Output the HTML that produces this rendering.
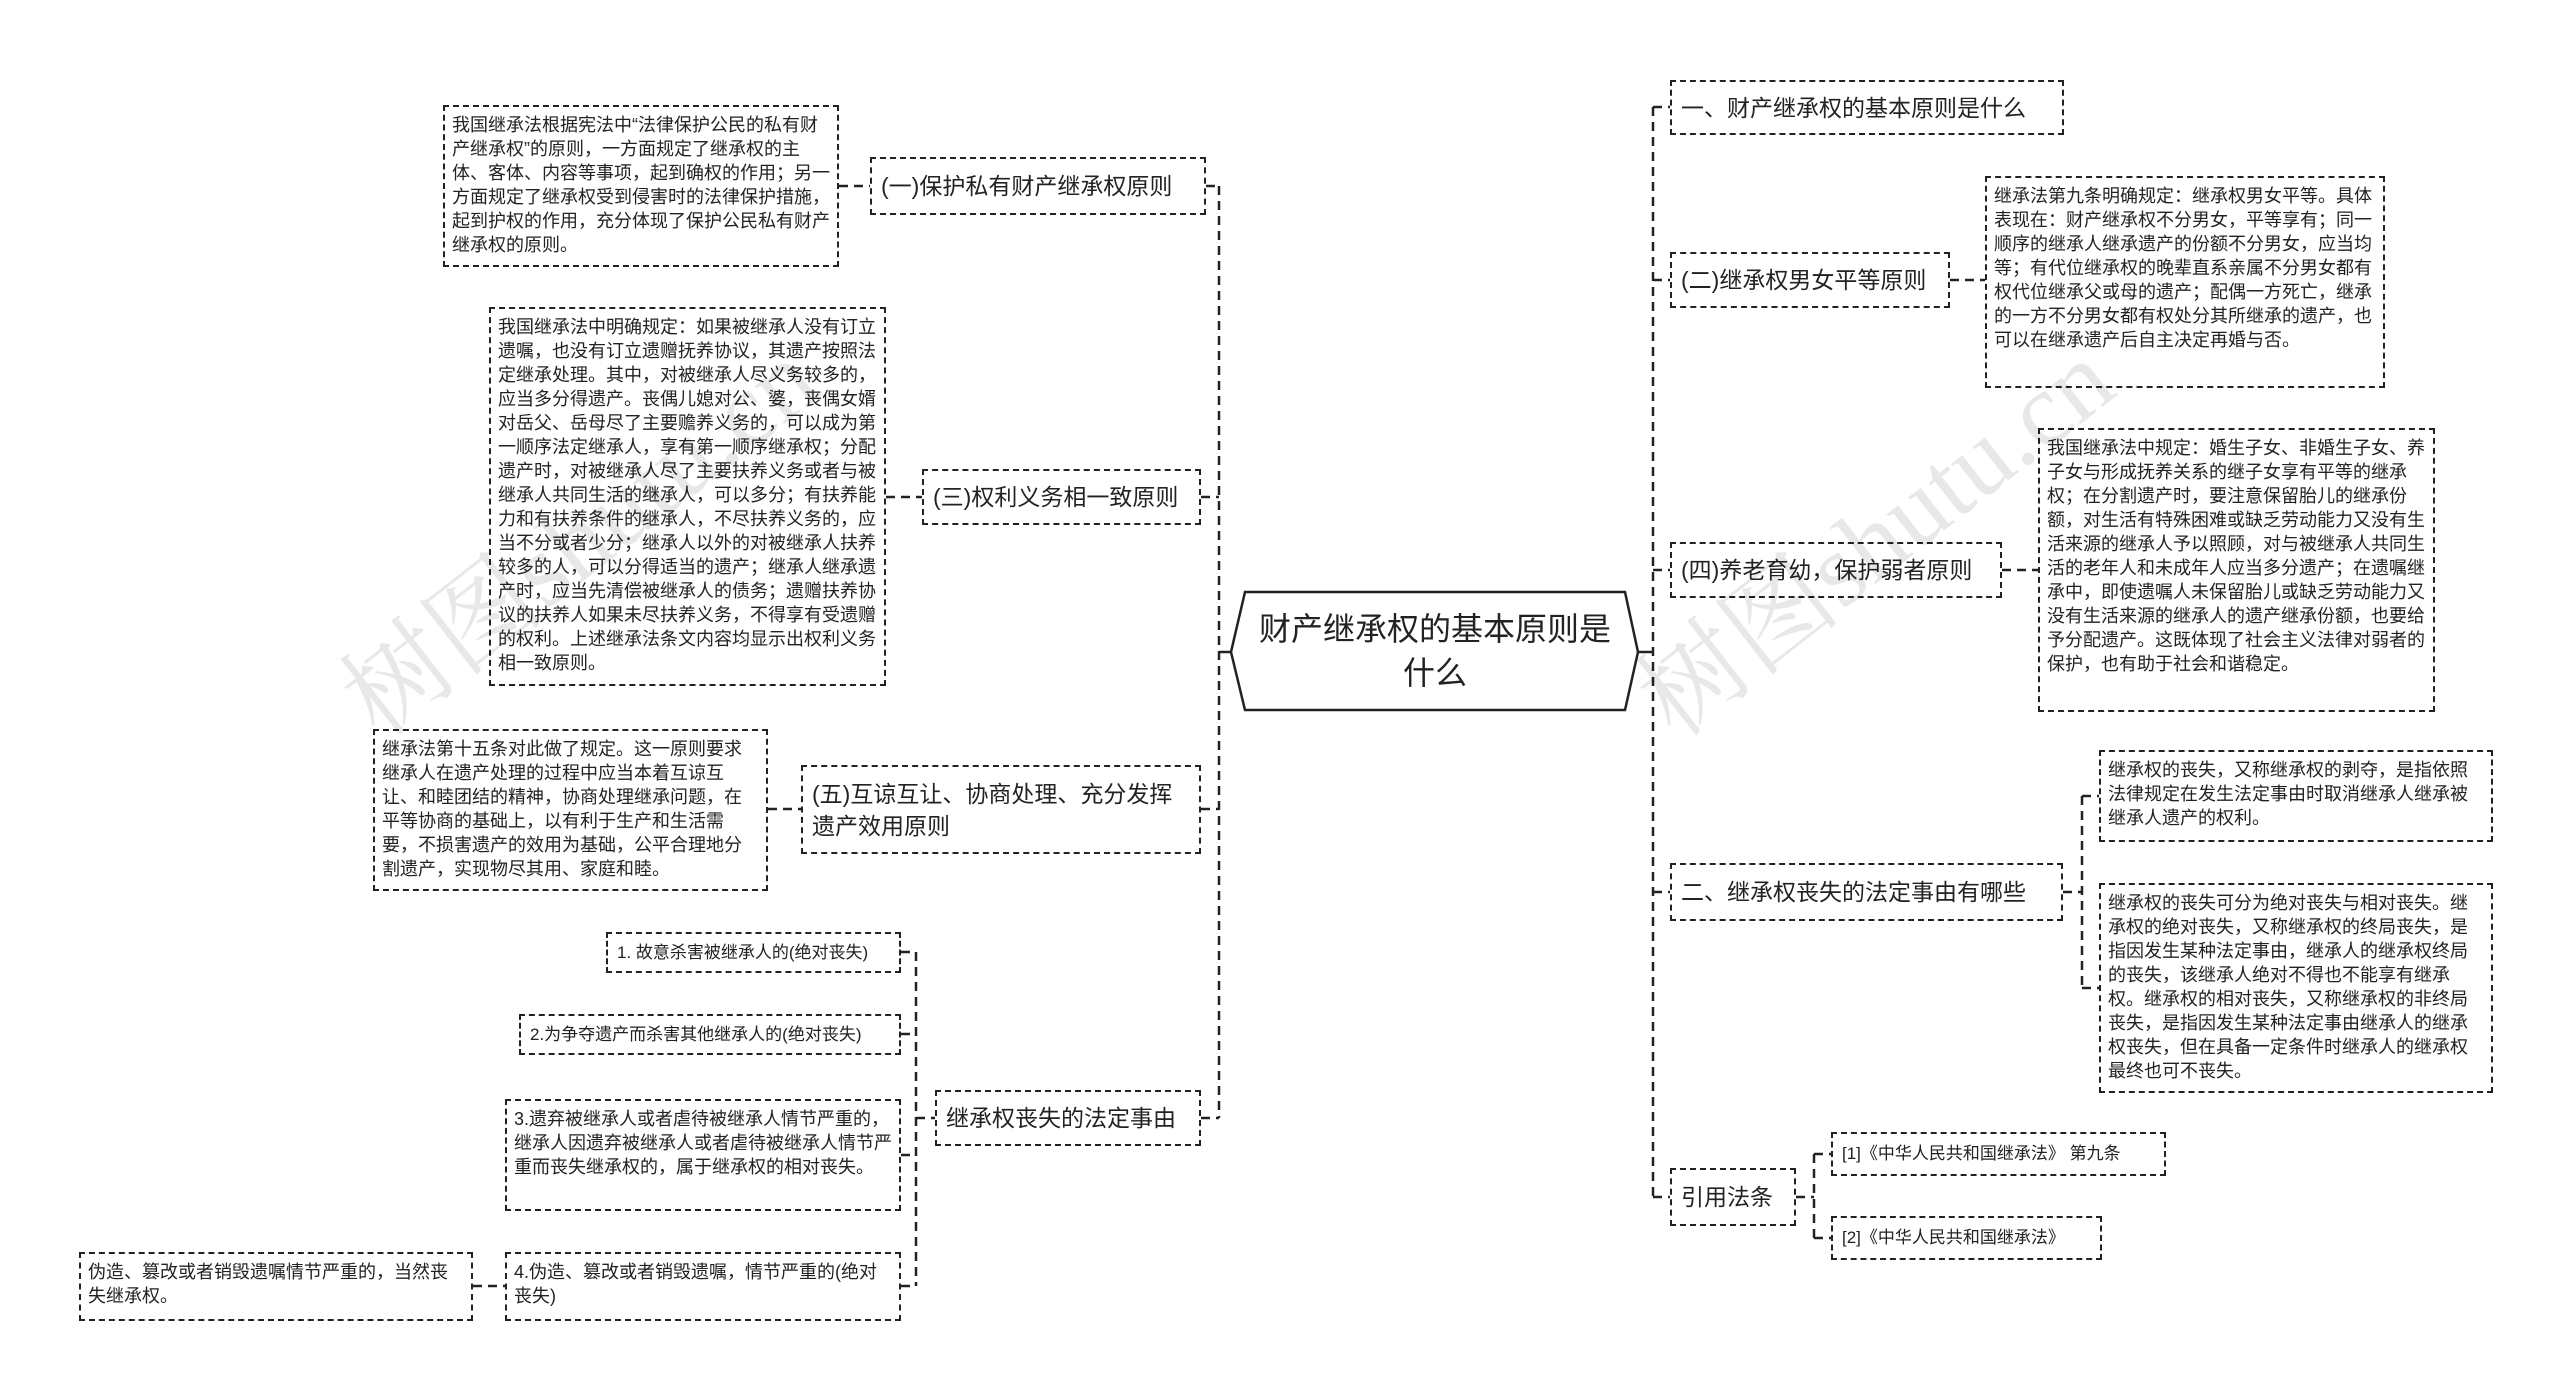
<!DOCTYPE html>
<html><head><meta charset="utf-8"><style>
html,body{margin:0;padding:0;background:#fff;width:2560px;height:1393px;overflow:hidden;}
#root{width:2560px;height:1393px;position:relative;overflow:hidden;font-family:"Liberation Sans","Noto Sans CJK SC",sans-serif;color:#222;}
.b{position:absolute;box-sizing:border-box;border:2px dashed #222;display:flex;align-items:center;padding:0 9px;font-size:23px;line-height:32px;background:#fff;white-space:nowrap;}
.b.w{white-space:normal;}
.d{position:absolute;box-sizing:border-box;border:2px dashed #222;padding:6px 7px;font-size:18px;line-height:24px;background:#fff;word-break:break-all;}
.s{font-size:17px;}
svg{position:absolute;left:0;top:0;}
</style></head><body><div id="root">
<svg width="2560" height="1393">
<g stroke="#222" stroke-width="2.5" fill="none" stroke-dasharray="9,6">
<path d="M1219 186V1118"/>
<path d="M1206 186H1219M839 186H870"/>
<path d="M1201 497H1219M886 497H922"/>
<path d="M1201 809H1219M768 809H801"/>
<path d="M1201 1118H1219M916 1118H935"/>
<path d="M916 952V1286M901 952H916M901 1034H916M901 1155H916M901 1286H916M473 1286H505"/>
<path d="M1653 107V1197"/>
<path d="M1653 107H1670M1653 280H1670M1653 570H1670M1653 892H1670M1653 1197H1670"/>
<path d="M1950 280H1985M2002 570H2038"/>
<path d="M2063 892H2082M2082 796V988M2082 796H2099M2082 988H2099"/>
<path d="M1796 1197H1814M1814 1154V1238M1814 1154H1831M1814 1238H1831"/>
</g>
<g stroke="#222" stroke-width="2.5" fill="none">
<path d="M1219 652H1232M1637 652H1653"/>
<polygon points="1245,592 1625,592 1638,652 1625,710 1245,710 1231,652" fill="#fff"/>
</g>
</svg>
<div style="position:absolute;left:1245px;top:592px;width:380px;height:118px;display:flex;align-items:center;justify-content:center;text-align:center;font-size:32px;line-height:44px;">财产继承权的基本原则是<br>什么</div>

<div class="b" style="left:870px;top:157px;width:336px;height:58px;">(一)保护私有财产继承权原则</div>
<div class="d" style="left:443px;top:105px;width:396px;height:162px;">我国继承法根据宪法中“法律保护公民的私有财产继承权”的原则，一方面规定了继承权的主体、客体、内容等事项，起到确权的作用；另一方面规定了继承权受到侵害时的法律保护措施，起到护权的作用，充分体现了保护公民私有财产继承权的原则。</div>

<div class="b" style="left:922px;top:469px;width:279px;height:56px;">(三)权利义务相一致原则</div>
<div class="d" style="left:489px;top:307px;width:397px;height:379px;">我国继承法中明确规定：如果被继承人没有订立遗嘱，也没有订立遗赠抚养协议，其遗产按照法定继承处理。其中，对被继承人尽义务较多的，应当多分得遗产。丧偶儿媳对公、婆，丧偶女婿对岳父、岳母尽了主要赡养义务的，可以成为第一顺序法定继承人，享有第一顺序继承权；分配遗产时，对被继承人尽了主要扶养义务或者与被继承人共同生活的继承人，可以多分；有扶养能力和有扶养条件的继承人，不尽扶养义务的，应当不分或者少分；继承人以外的对被继承人扶养较多的人，可以分得适当的遗产；继承人继承遗产时，应当先清偿被继承人的债务；遗赠扶养协议的扶养人如果未尽扶养义务，不得享有受遗赠的权利。上述继承法条文内容均显示出权利义务相一致原则。</div>

<div class="b w" style="left:801px;top:765px;width:400px;height:89px;">(五)互谅互让、协商处理、充分发挥遗产效用原则</div>
<div class="d" style="left:373px;top:729px;width:395px;height:162px;">继承法第十五条对此做了规定。这一原则要求继承人在遗产处理的过程中应当本着互谅互让、和睦团结的精神，协商处理继承问题，在平等协商的基础上，以有利于生产和生活需要，不损害遗产的效用为基础，公平合理地分割遗产，实现物尽其用、家庭和睦。</div>

<div class="b" style="left:935px;top:1090px;width:266px;height:56px;">继承权丧失的法定事由</div>
<div class="b s" style="left:606px;top:932px;width:295px;height:41px;">1. 故意杀害被继承人的(绝对丧失)</div>
<div class="b s" style="left:519px;top:1014px;width:382px;height:41px;">2.为争夺遗产而杀害其他继承人的(绝对丧失)</div>
<div class="d" style="left:505px;top:1099px;width:396px;height:112px;">3.遗弃被继承人或者虐待被继承人情节严重的，继承人因遗弃被继承人或者虐待被继承人情节严重而丧失继承权的，属于继承权的相对丧失。</div>
<div class="d" style="left:505px;top:1252px;width:396px;height:69px;">4.伪造、篡改或者销毁遗嘱，情节严重的(绝对丧失)</div>
<div class="d" style="left:79px;top:1252px;width:394px;height:69px;">伪造、篡改或者销毁遗嘱情节严重的，当然丧失继承权。</div>

<div class="b" style="left:1670px;top:80px;width:394px;height:55px;">一、财产继承权的基本原则是什么</div>
<div class="b" style="left:1670px;top:252px;width:280px;height:56px;">(二)继承权男女平等原则</div>
<div class="d" style="left:1985px;top:176px;width:400px;height:212px;">继承法第九条明确规定：继承权男女平等。具体表现在：财产继承权不分男女，平等享有；同一顺序的继承人继承遗产的份额不分男女，应当均等；有代位继承权的晚辈直系亲属不分男女都有权代位继承父或母的遗产；配偶一方死亡，继承的一方不分男女都有权处分其所继承的遗产，也可以在继承遗产后自主决定再婚与否。</div>
<div class="b" style="left:1670px;top:542px;width:332px;height:56px;">(四)养老育幼，保护弱者原则</div>
<div class="d" style="left:2038px;top:428px;width:397px;height:284px;">我国继承法中规定：婚生子女、非婚生子女、养子女与形成抚养关系的继子女享有平等的继承权；在分割遗产时，要注意保留胎儿的继承份额，对生活有特殊困难或缺乏劳动能力又没有生活来源的继承人予以照顾，对与被继承人共同生活的老年人和未成年人应当多分遗产；在遗嘱继承中，即使遗嘱人未保留胎儿或缺乏劳动能力又没有生活来源的继承人的遗产继承份额，也要给予分配遗产。这既体现了社会主义法律对弱者的保护，也有助于社会和谐稳定。</div>
<div class="b" style="left:1670px;top:863px;width:393px;height:58px;">二、继承权丧失的法定事由有哪些</div>
<div class="d" style="left:2099px;top:750px;width:394px;height:92px;">继承权的丧失，又称继承权的剥夺，是指依照法律规定在发生法定事由时取消继承人继承被继承人遗产的权利。</div>
<div class="d" style="left:2099px;top:883px;width:394px;height:210px;">继承权的丧失可分为绝对丧失与相对丧失。继承权的绝对丧失，又称继承权的终局丧失，是指因发生某种法定事由，继承人的继承权终局的丧失，该继承人绝对不得也不能享有继承权。继承权的相对丧失，又称继承权的非终局丧失，是指因发生某种法定事由继承人的继承权丧失，但在具备一定条件时继承人的继承权最终也可不丧失。</div>
<div class="b" style="left:1670px;top:1168px;width:126px;height:58px;">引用法条</div>
<div class="b s" style="left:1831px;top:1132px;width:335px;height:44px;">[1]《中华人民共和国继承法》 第九条</div>
<div class="b s" style="left:1831px;top:1216px;width:271px;height:44px;">[2]《中华人民共和国继承法》</div>

<svg width="2560" height="1393" style="pointer-events:none;">
<g fill="rgba(0,0,0,0.09)" font-size="105" font-family="Liberation Serif, Noto Serif CJK SC, serif">
<text x="380" y="740" transform="rotate(-38 380 740)">树图shutu.cn</text>
<text x="1676" y="740" transform="rotate(-38 1676 740)">树图shutu.cn</text>
</g>
</svg>
</div></body></html>
